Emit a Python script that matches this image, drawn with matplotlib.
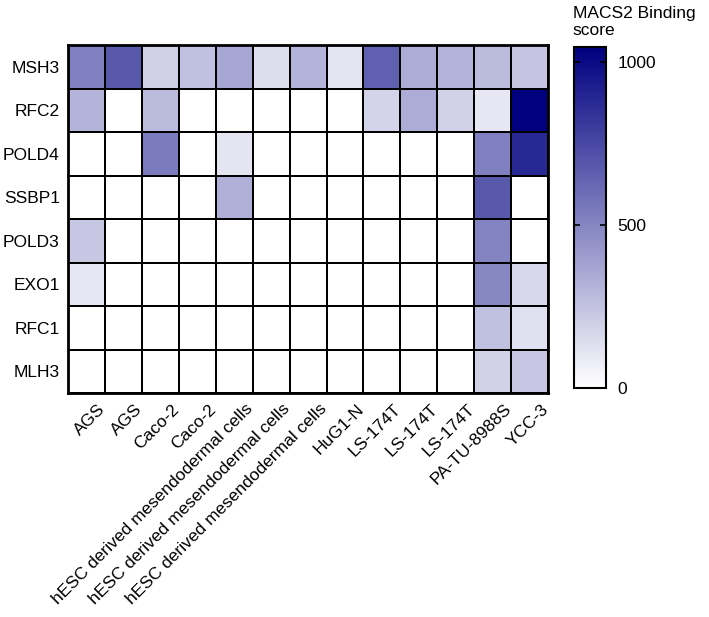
import numpy as np
import matplotlib
matplotlib.use("Agg")
import matplotlib.pyplot as plt
import matplotlib.transforms as mtransforms
from matplotlib.colors import LinearSegmentedColormap

# row / column labels
genes = ["MSH3", "RFC2", "POLD4", "SSBP1", "POLD3", "EXO1", "RFC1", "MLH3"]
cells = ["AGS", "AGS", "Caco-2", "Caco-2",
         "hESC derived mesendodermal cells",
         "hESC derived mesendodermal cells",
         "hESC derived mesendodermal cells",
         "HuG1-N", "LS-174T", "LS-174T", "LS-174T", "PA-TU-8988S", "YCC-3"]

# MACS2 binding scores (0 = no peak)
msh3  = [520, 680, 200, 260, 360, 140, 310, 110, 650, 340, 310, 280, 240]
rfc2  = [310, 0, 280, 0, 0, 0, 0, 0, 180, 340, 190, 100, 1040]
pold4 = [0, 0, 540, 0, 110, 0, 0, 0, 0, 0, 0, 520, 880]
ssbp1 = [0, 0, 0, 0, 330, 0, 0, 0, 0, 0, 0, 680, 0]
pold3 = [230, 0, 0, 0, 0, 0, 0, 0, 0, 0, 0, 510, 0]
exo1  = [100, 0, 0, 0, 0, 0, 0, 0, 0, 0, 0, 490, 160]
rfc1  = [0, 0, 0, 0, 0, 0, 0, 0, 0, 0, 0, 260, 130]
mlh3  = [0, 0, 0, 0, 0, 0, 0, 0, 0, 0, 0, 190, 230]

scores = np.array([msh3, rfc2, pold4, ssbp1, pold3, exo1, rfc1, mlh3], dtype=float)

plt.rcParams["font.family"] = ["Liberation Sans", "DejaVu Sans"]
FS = 12.5

cmap = LinearSegmentedColormap.from_list("white_navy", ["#ffffff", "#000080"], N=256)

fig = plt.figure(figsize=(7.09, 6.17), dpi=100)
ax = fig.add_axes([0.096, 0.363, 0.677, 0.564])
mesh = ax.pcolormesh(scores, cmap=cmap, vmin=0, vmax=1045,
                     edgecolors="black", linewidth=1.1)
ax.set_xlim(0, len(cells))
ax.set_ylim(len(genes), 0)
ax.set_yticks(np.arange(len(genes)) + 0.5)
ax.set_yticklabels(genes, fontsize=FS)
ax.set_xticks(np.arange(len(cells)) + 0.5)
ax.set_xticklabels(cells, fontsize=FS, rotation=45, ha="right",
                   rotation_mode="anchor")
ax.tick_params(length=0, pad=6)
ax.tick_params(axis="x", pad=6)
# nudge the rotated labels a little right, as in the reference
shift = mtransforms.ScaledTranslation(8 / 72, 0, fig.dpi_scale_trans)
for lab in ax.get_xticklabels():
    lab.set_transform(lab.get_transform() + shift)
for s in ax.spines.values():
    s.set_linewidth(2)

cax = fig.add_axes([0.810, 0.371, 0.045, 0.553])
cb = fig.colorbar(mesh, cax=cax, ticks=[0, 500, 1000])
cb.outline.set_linewidth(1.5)
cax.tick_params(labelsize=FS, direction="in", length=4, width=1.2,
                left=True, right=True, pad=8)
fig.text(0.808, 0.938, "MACS2 Binding\nscore", fontsize=FS,
         ha="left", va="bottom", linespacing=1.2)

fig.savefig("out.png", dpi=100)
